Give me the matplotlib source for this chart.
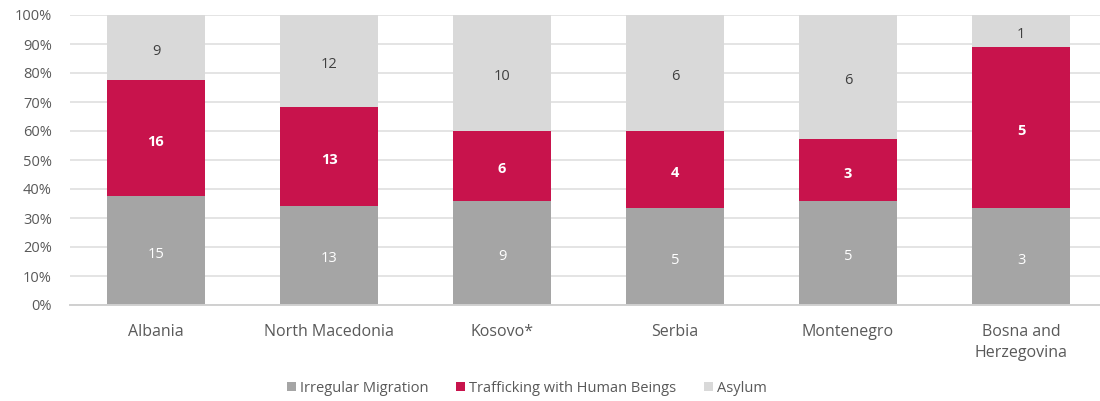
import matplotlib
matplotlib.use("Agg")
import matplotlib.pyplot as plt
import numpy as np
from matplotlib.ticker import PercentFormatter

categories = ["Albania", "North Macedonia", "Kosovo*", "Serbia", "Montenegro", "Bosna and\nHerzegovina"]
irregular = [15, 13, 9, 5, 5, 3]
trafficking = [16, 13, 6, 4, 3, 5]
asylum = [9, 12, 10, 6, 6, 1]
series_names = ["Irregular Migration", "Trafficking with Human Beings", "Asylum"]
colors = ["#A5A5A5", "#C8134C", "#D9D9D9"]
label_colors = ["white", "white", "#404040"]
label_weights = ["normal", "bold", "normal"]

plt.rcParams['font.family'] = ['Open Sans', 'DejaVu Sans']
FS = 10.5

fig = plt.figure(figsize=(11, 4.01), dpi=100)
ax = fig.add_axes([70/1100, (401-305)/401, (1100-70)/1100, 290/401])

data = np.array([irregular, trafficking, asylum], dtype=float)
totals = data.sum(axis=0)
pct = data / totals * 100
x = np.arange(len(categories))
bottom = np.zeros(len(categories))
for i in range(3):
    bars = ax.bar(x, pct[i], 0.566, bottom=bottom, color=colors[i], label=series_names[i], zorder=2)
    for j, b in enumerate(bars):
        ax.annotate(f"{int(data[i][j])}",
                    (b.get_x() + b.get_width()/2, bottom[j] + pct[i][j]/2),
                    xytext=(0, -2.5), textcoords="offset points",
                    ha="center", va="center", color=label_colors[i], fontsize=FS,
                    fontweight=label_weights[i], zorder=3)
    bottom += pct[i]

ax.set_xlim(-(156-70)/173, (1100-156)/173)
ax.set_ylim(0, 100)
ax.set_yticks(np.arange(0, 101, 10))
ax.yaxis.set_major_formatter(PercentFormatter(decimals=0))
ax.grid(axis="y", color="#E4E4E4", linewidth=1.4, zorder=0)
ax.set_axisbelow(True)
for s in ["top", "right", "left"]:
    ax.spines[s].set_visible(False)
ax.spines["bottom"].set_color("#D0D0D0")
ax.spines["bottom"].set_linewidth(1.4)
ax.tick_params(axis="both", length=0, colors="#595959", labelsize=FS)
ax.tick_params(axis="y", pad=13)
ax.tick_params(axis="x", pad=14, labelsize=11.5)
ax.set_xticks(x)
ax.set_xticklabels(categories, linespacing=1.4)

leg = fig.legend(loc="center", bbox_to_anchor=(527/1100, 1 - 388/401), ncol=3, frameon=False,
                 fontsize=FS, handlelength=0.6, handleheight=0.6, handletextpad=0.3,
                 columnspacing=1.9, labelcolor="#595959")

fig.savefig("out.png", dpi=100)
